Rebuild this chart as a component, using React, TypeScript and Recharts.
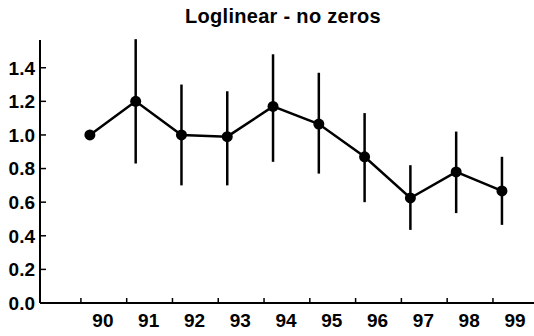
import { LineChart, Line, XAxis, YAxis, ErrorBar } from 'recharts';

const years = [90, 91, 92, 93, 94, 95, 96, 97, 98, 99];
const estimates = [1.0, 1.2, 1.0, 0.99, 1.17, 1.065, 0.87, 0.625, 0.78, 0.667];
const lowerBounds = [1.0, 0.83, 0.7, 0.7, 0.84, 0.77, 0.6, 0.435, 0.535, 0.465];
const upperBounds = [1.0, 1.57, 1.3, 1.26, 1.48, 1.37, 1.13, 0.82, 1.02, 0.87];
const yTicks = [0, 0.2, 0.4, 0.6, 0.8, 1.0, 1.2, 1.4];

const data = years.map((year, i) => ({
  year,
  value: estimates[i],
  err: [estimates[i] - lowerBounds[i], upperBounds[i] - estimates[i]],
}));

const FONT = '"Liberation Sans", Arial, Helvetica, sans-serif';

const XTick = ({ x, y, payload }: any) => (
  <g>
    <line x1={x - 9} x2={x - 9} y1={y} y2={y - 5} stroke="#000" strokeWidth={1.5} />
    <text x={x + 13} y={y + 24} textAnchor="middle" fontFamily={FONT} fontWeight="bold" fontSize={19} fill="#000">
      {payload.value}
    </text>
  </g>
);

const YTick = ({ x, y, payload }: any) => (
  <g>
    <line x1={x} x2={x + 6} y1={y} y2={y} stroke="#000" strokeWidth={1.5} />
    <text x={x - 5} y={y} dy="0.36em" textAnchor="end" fontFamily={FONT} fontWeight="bold" fontSize={19} fill="#000">
      {payload.value.toFixed(1)}
    </text>
  </g>
);

export default function App() {
  return (
    <div style={{ position: 'absolute', left: 0, top: 0, width: 534, height: 336, background: '#fff' }}>
      <div
        style={{
          position: 'absolute',
          left: 0,
          width: 534,
          top: 4,
          marginLeft: 16,
          textAlign: 'center',
          fontFamily: FONT,
          fontWeight: 'bold',
          fontSize: 20,
          letterSpacing: 0.3,
          lineHeight: '24px',
        }}
      >
        Loglinear - no zeros
      </div>
      <LineChart width={534} height={336} data={data} margin={{ top: 40, right: 0, bottom: 3, left: 0 }}>
        <XAxis
          dataKey="year"
          type="number"
          domain={[88.91, 99.7]}
          ticks={years}
          tick={<XTick />}
          tickLine={false}
          tickSize={0}
          tickMargin={0}
          axisLine={{ stroke: '#000', strokeWidth: 2 }}
          height={30}
          allowDataOverflow
        />
        <YAxis
          type="number"
          domain={[0, 1.565]}
          ticks={yTicks}
          tick={<YTick />}
          tickLine={false}
          tickSize={0}
          tickMargin={0}
          axisLine={{ stroke: '#000', strokeWidth: 2 }}
          width={40}
          allowDataOverflow
        />
        <Line
          dataKey="value"
          stroke="#000"
          strokeWidth={2.5}
          dot={{ r: 5.5, fill: '#000', stroke: '#000', strokeWidth: 0 }}
          isAnimationActive={false}
        >
          <ErrorBar dataKey="err" direction="y" width={0} stroke="#000" strokeWidth={2.5} />
        </Line>
      </LineChart>
    </div>
  );
}
